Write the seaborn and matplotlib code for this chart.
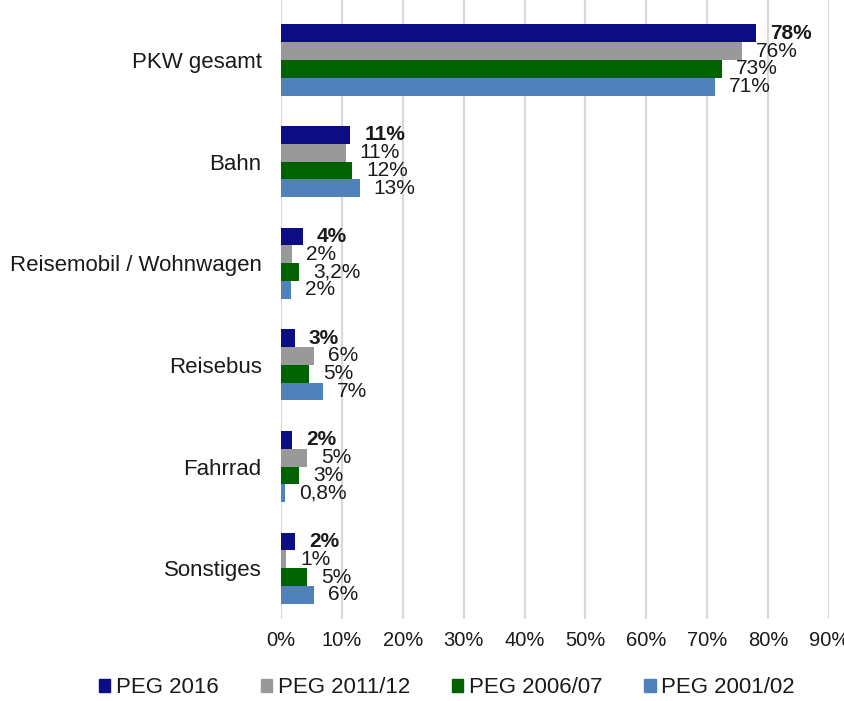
import pandas as pd
import matplotlib.pyplot as plt
import seaborn as sns

# data (bar lengths in %, plus the printed labels)
categories = ['PKW gesamt', 'Bahn', 'Reisemobil / Wohnwagen', 'Reisebus', 'Fahrrad', 'Sonstiges']
series = ['PEG 2016', 'PEG 2011/12', 'PEG 2006/07', 'PEG 2001/02']
peg_2016 = [78.1, 11.4, 3.6, 2.3, 1.8, 2.3]
peg_2011 = [75.8, 10.6, 1.8, 5.4, 4.3, 0.9]
peg_2006 = [72.5, 11.7, 3.0, 4.6, 3.0, 4.3]
peg_2001 = [71.3, 12.9, 1.7, 6.9, 0.65, 5.5]
labels_2016 = ['78%', '11%', '4%', '3%', '2%', '2%']
labels_2011 = ['76%', '11%', '2%', '6%', '5%', '1%']
labels_2006 = ['73%', '12%', '3,2%', '5%', '3%', '5%']
labels_2001 = ['71%', '13%', '2%', '7%', '0,8%', '6%']
colors = ['#0c0c85', '#999999', '#006300', '#4f81bd']

sns.set_style('white')
plt.rcParams['font.family'] = ['Liberation Sans', 'DejaVu Sans']

rows = []
for name, vals in zip(series, [peg_2016, peg_2011, peg_2006, peg_2001]):
    for cat, v in zip(categories, vals):
        rows.append({'Kategorie': cat, 'Jahr': name, 'Anteil': v})
df = pd.DataFrame(rows)

fig = plt.figure(figsize=(8.45, 7.01), dpi=100)
ax = fig.add_axes([0.3325, 0.117, 0.6485, 0.883])

sns.barplot(data=df, y='Kategorie', x='Anteil', hue='Jahr', order=categories,
            hue_order=series, palette=colors, orient='h', width=0.7,
            saturation=1, linewidth=0, legend=False, ax=ax)

# value labels, 2016 in bold
all_labels = [labels_2016, labels_2011, labels_2006, labels_2001]
for i, (cont, labs) in enumerate(zip(ax.containers, all_labels)):
    ax.bar_label(cont, labels=labs, padding=10, fontsize=15, color='#1a1a1a',
                 fontweight='bold' if i == 0 else 'normal')

ax.set_xlim(0, 90)
ax.set_ylim(5.5, -0.59)
ax.set_xticks(range(0, 91, 10))
ax.set_xticklabels([f'{t}%' for t in range(0, 91, 10)])
ax.xaxis.grid(True, color='#d9d9d9', linewidth=1.6)
ax.set_axisbelow(True)
for s in ax.spines.values():
    s.set_visible(False)
ax.tick_params(axis='x', length=0, pad=9, labelsize=14.5, colors='#1a1a1a')
ax.tick_params(axis='y', length=0, pad=14, labelsize=16, colors='#1a1a1a')
ax.set_xlabel('')
ax.set_ylabel('')

handles = [plt.Rectangle((0, 0), 1, 1, color=c) for c in colors]
fig.legend(handles, series, loc='center', bbox_to_anchor=(0.529, 0.019), ncol=4,
           frameon=False, fontsize=16, handlelength=0.5, handleheight=0.5,
           handletextpad=0.25, columnspacing=1.9, labelcolor='#1a1a1a')

fig.savefig('out.png', dpi=100)
